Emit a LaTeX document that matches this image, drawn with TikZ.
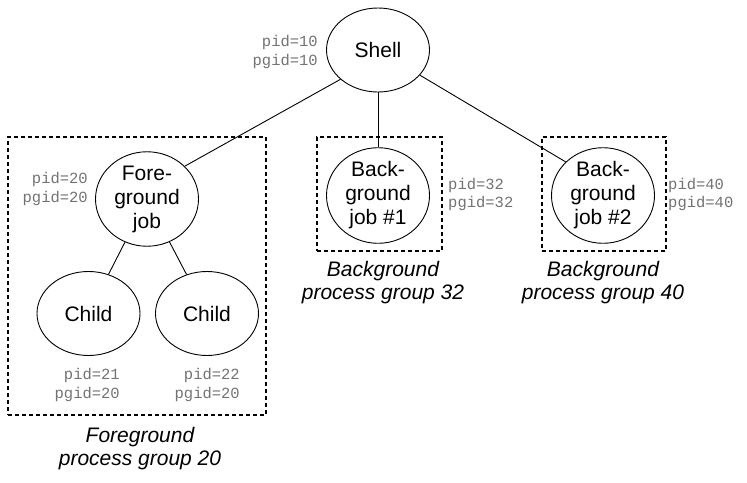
\documentclass[tikz,border=0pt]{standalone}
\usepackage{fontspec}
\setmainfont{Liberation Sans}
\setmonofont{Liberation Mono}
\usetikzlibrary{shapes.geometric}

\begin{document}
\begin{tikzpicture}[x=1pt,y=-1pt,
  proc/.style={draw, line width=0.9pt, ellipse, inner sep=0pt, minimum width=103pt, minimum height=84pt, align=center, font=\fontsize{21}{24}\selectfont},
  ids/.style={font=\ttfamily\fontsize{15.5}{18.5}\selectfont, text=black!55, inner sep=0pt},
  group/.style={draw, line width=1.2pt, dash pattern=on 4pt off 3pt, inner sep=0pt},
  grouplabel/.style={align=center, font=\itshape\fontsize{21}{23}\selectfont},
  link/.style={line width=0.9pt}]
  \useasboundingbox (0,0) rectangle (747,482);
  % Process groups
  \node[group, minimum width=258pt, minimum height=278pt] (fggroup) at (137,276) {};
  \node[group, minimum width=125pt, minimum height=114pt] (bggroup1) at (379.5,194) {};
  \node[group, minimum width=124pt, minimum height=114pt] (bggroup2) at (604,194) {};
  \node[grouplabel] (fglabel) at (140,449) {Foreground\\process group 20};
  \node[grouplabel] (bglabel1) at (383,283) {Background\\process group 32};
  \node[grouplabel] (bglabel2) at (603,283) {Background\\process group 40};
  % Processes
  \node[proc] (shell) at (378,50) {Shell};
  \node[proc] (fgjob) at (147,199) {Fore-\\ground\\job};
  \node[proc] (child1) at (88.5,313.5) {Child};
  \node[proc] (child2) at (207,313.5) {Child};
  \node[proc, minimum height=87pt] (bgjob1) at (378,195.5) {Back-\\ground\\job \#1};
  \node[proc, minimum height=87pt] (bgjob2) at (603,195.5) {Back-\\ground\\job \#2};
  % Ids
  \node[ids, anchor=east, align=right] (shellid) at (318,52) {pid=10\\pgid=10};
  \node[ids, anchor=east, align=right] (fgid) at (88,189) {pid=20\\pgid=20};
  \node[ids, anchor=east, align=right] (child1id) at (120,385) {pid=21\\pgid=20};
  \node[ids, anchor=east, align=right] (child2id) at (240,385) {pid=22\\pgid=20};
  \node[ids, anchor=west, align=left] (bgid1) at (448,194.5) {pid=32\\pgid=32};
  \node[ids, anchor=west, align=left] (bgid2) at (668,194.5) {pid=40\\pgid=40};
  % Links
  \draw[link] (shell.218) -- (fgjob.41);
  \draw[link] (shell) -- (bgjob1);
  \draw[link] (shell.-31) -- (bgjob2.138);
  \draw[link] (fgjob) -- (child1);
  \draw[link] (fgjob) -- (child2);
\end{tikzpicture}
\end{document}
